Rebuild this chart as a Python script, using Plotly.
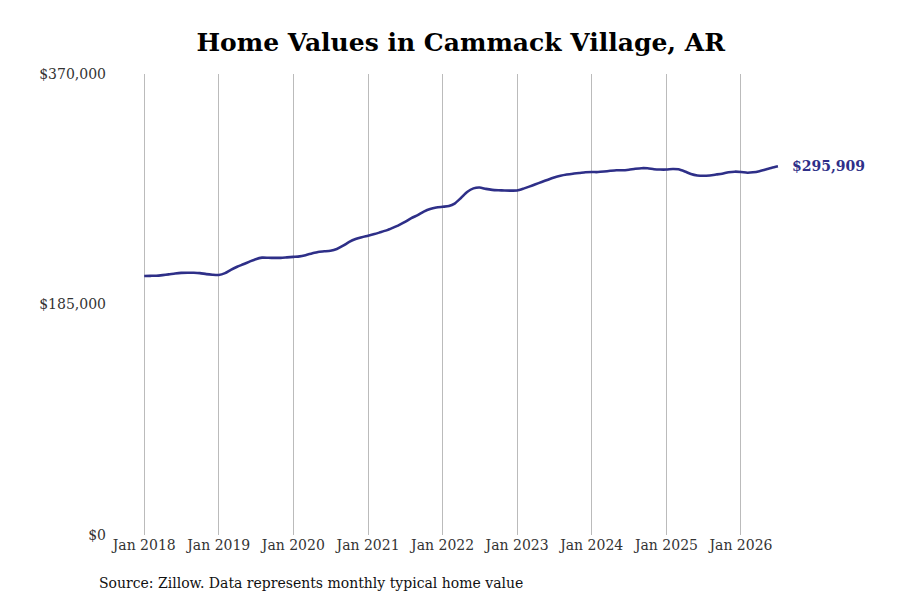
import pandas as pd
import plotly.graph_objects as go

# Monthly typical home value, Jan 2018 - Jul 2026
months = pd.date_range("2018-01-01", "2026-07-01", freq="MS")

values = [
    # 2018
    207900, 208000, 208100, 208600, 209200, 209900, 210400, 210500, 210500, 210200, 209400, 208900,
    # 2019
    208700, 210200, 212800, 215300, 217300, 219400, 221400, 222600, 222500, 222400, 222400, 222800,
    # 2020
    223200, 223600, 224600, 226000, 227200, 227700, 228200, 229600, 232200, 235200, 237500, 239000,
    # 2021
    240200, 241500, 242900, 244500, 246500, 248700, 251300, 254300, 256800, 259600, 261700, 262800,
    # 2022
    263400, 264000, 266000, 270500, 275300, 278200, 278900, 277800, 277000, 276700, 276500, 276400,
    # 2023
    276500, 278000, 279600, 281500, 283300, 285200, 286900, 288300, 289300, 290000, 290500, 291100,
    # 2024
    291300, 291300, 291700, 292300, 292800, 292700, 293200, 293900, 294400, 294300, 293600, 293300,
    # 2025
    293300, 293800, 293500, 291800, 289800, 288600, 288300, 288600, 289300, 290000, 291100, 291600,
    # 2026
    291400, 290800, 291100, 292000, 293400, 294800, 295909,
]

tick_dates = pd.date_range("2018-01-01", "2026-01-01", freq="YS")
tick_text = [d.strftime("Jan %Y") for d in tick_dates]

y_ticks = [0, 185000, 370000]
y_text = ["$0", "$185,000", "$370,000"]

LINE_COLOR = "#2e2f88"
FONT = "DejaVu Serif"

fig = go.Figure()
fig.add_trace(go.Scatter(
    x=months, y=values,
    mode="lines",
    line=dict(color=LINE_COLOR, width=2.6, shape="spline", smoothing=0.6),
    hoverinfo="x+y",
    showlegend=False,
))

# label on the last value
fig.add_annotation(
    x=months[-1], y=values[-1],
    text=f"<b>${values[-1]:,}</b>",
    showarrow=False,
    xanchor="left", yanchor="middle",
    xshift=12,
    font=dict(family=FONT, size=14, color=LINE_COLOR),
)

fig.add_annotation(
    x=0, y=-0.104, xref="paper", yref="paper",
    xanchor="left", yanchor="middle",
    xshift=-18,
    text="Source: Zillow. Data represents monthly typical home value",
    showarrow=False,
    font=dict(family=FONT, size=14, color="#111111"),
)

fig.update_layout(
    width=900, height=600,
    margin=dict(l=107, r=118, t=66, b=73),
    plot_bgcolor="white",
    paper_bgcolor="white",
    title=dict(
        text="<b>Home Values in Cammack Village, AR</b>",
        x=0.503, xanchor="center", xref="container",
        y=0.943, yanchor="middle",
        font=dict(family="DejaVu Serif", size=25, color="black"),
    ),
    font=dict(family=FONT, size=14, color="#333333"),
    xaxis=dict(
        range=["2017-08-11", "2026-08-29"],
        tickvals=tick_dates,
        ticktext=tick_text,
        showgrid=True,
        gridcolor="#bbbbbb",
        gridwidth=1,
        zeroline=False,
        showline=False,
        ticks="",
        tickfont=dict(family=FONT, size=14, color="#333333"),
    ),
    yaxis=dict(
        range=[0, 370000],
        tickvals=y_ticks,
        ticktext=y_text,
        showgrid=False,
        zeroline=False,
        showline=False,
        ticks="",
        ticklabelstandoff=8,
        tickfont=dict(family=FONT, size=14, color="#333333"),
    ),
)

fig.write_html("out.html")
